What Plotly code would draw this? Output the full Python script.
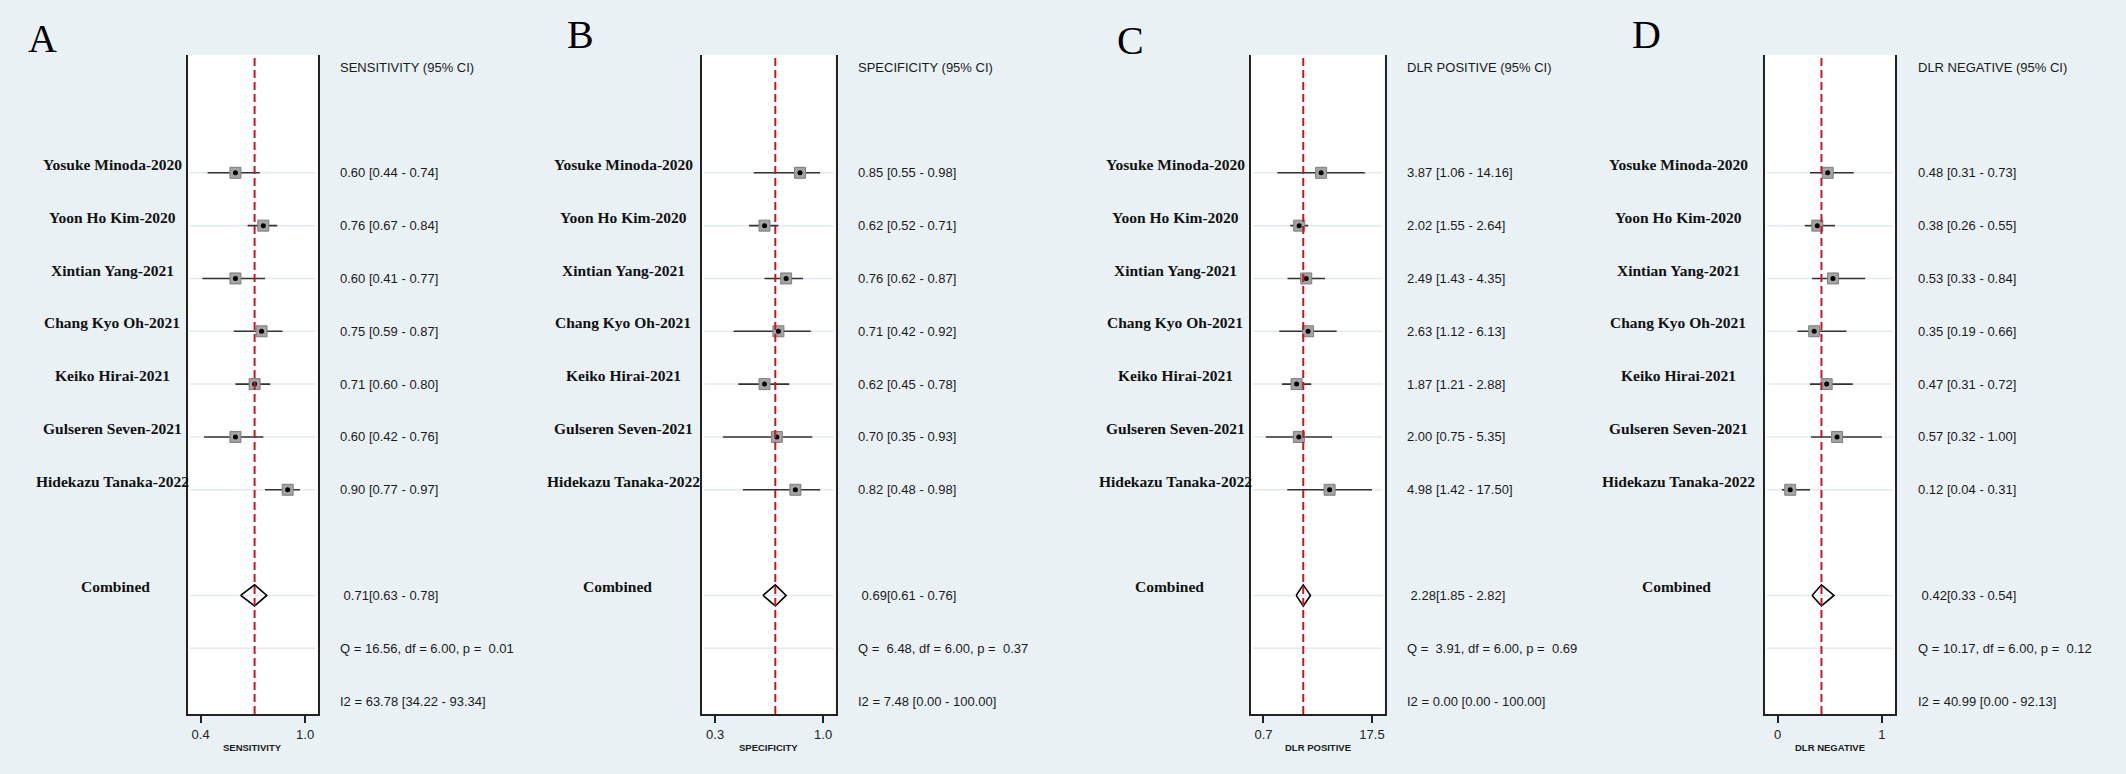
import plotly.graph_objects as go

# ---------------- data ----------------
studies = ["Yosuke Minoda-2020", "Yoon Ho Kim-2020", "Xintian Yang-2021",
           "Chang Kyo Oh-2021", "Keiko Hirai-2021", "Gulseren Seven-2021",
           "Hidekazu Tanaka-2022"]
study_rows = [1, 2, 3, 4, 5, 6, 7]
combined_row = 9
q_row = 10
i2_row = 11
header_row = -1

sens_est = [0.60, 0.76, 0.60, 0.75, 0.71, 0.60, 0.90]
sens_lo = [0.44, 0.67, 0.41, 0.59, 0.60, 0.42, 0.77]
sens_hi = [0.74, 0.84, 0.77, 0.87, 0.80, 0.76, 0.97]
sens_comb = [0.71, 0.63, 0.78]
sens_q = [16.56, 6.00, 0.01]
sens_i2 = [63.78, 34.22, 93.34]

spec_est = [0.85, 0.62, 0.76, 0.71, 0.62, 0.70, 0.82]
spec_lo = [0.55, 0.52, 0.62, 0.42, 0.45, 0.35, 0.48]
spec_hi = [0.98, 0.71, 0.87, 0.92, 0.78, 0.93, 0.98]
spec_comb = [0.69, 0.61, 0.76]
spec_q = [6.48, 6.00, 0.37]
spec_i2 = [7.48, 0.00, 100.00]

dlrp_est = [3.87, 2.02, 2.49, 2.63, 1.87, 2.00, 4.98]
dlrp_lo = [1.06, 1.55, 1.43, 1.12, 1.21, 0.75, 1.42]
dlrp_hi = [14.16, 2.64, 4.35, 6.13, 2.88, 5.35, 17.50]
dlrp_comb = [2.28, 1.85, 2.82]
dlrp_q = [3.91, 6.00, 0.69]
dlrp_i2 = [0.00, 0.00, 100.00]

dlrn_est = [0.48, 0.38, 0.53, 0.35, 0.47, 0.57, 0.12]
dlrn_lo = [0.31, 0.26, 0.33, 0.19, 0.31, 0.32, 0.04]
dlrn_hi = [0.73, 0.55, 0.84, 0.66, 0.72, 1.00, 0.31]
dlrn_comb = [0.42, 0.33, 0.54]
dlrn_q = [10.17, 6.00, 0.12]
dlrn_i2 = [40.99, 0.00, 92.13]

letters = ["A", "B", "C", "D"]
headers = ["SENSITIVITY (95% CI)", "SPECIFICITY (95% CI)",
           "DLR POSITIVE (95% CI)", "DLR NEGATIVE (95% CI)"]
axis_titles = ["SENSITIVITY", "SPECIFICITY", "DLR POSITIVE", "DLR NEGATIVE"]
tick_values = [[0.4, 1.0], [0.3, 1.0], [0.7, 17.5], [0, 1]]
tick_labels = [["0.4", "1.0"], ["0.3", "1.0"], ["0.7", "17.5"], ["0", "1"]]

# ---------------- layout (pixels) ----------------
W, H = 2126, 774
BG = "#E9F1F5"
plot_px = [(187.5, 317.5), (702, 835.5), (1251, 1384.5), (1765, 1895)]
x_ranges = [[0.3246, 1.0713], [0.215, 1.080], [-0.315, 1.404], [-0.122, 1.126]]
x_types = ["linear", "linear", "log", "linear"]
name_center_px = [112, 623, 1175, 1678]
comb_center_px = [115, 617, 1169, 1676]
text_left_px = [338, 856, 1405, 1915.5]
letter_pos_px = [(42.5, 38), (580.5, 34), (1130, 41), (1646, 34)]
top_px, bottom_px = 55, 714
y_range = [11.245, -1.23]

panels = [
    (sens_est, sens_lo, sens_hi, sens_comb, sens_q, sens_i2),
    (spec_est, spec_lo, spec_hi, spec_comb, spec_q, spec_i2),
    (dlrp_est, dlrp_lo, dlrp_hi, dlrp_comb, dlrp_q, dlrp_i2),
    (dlrn_est, dlrn_lo, dlrn_hi, dlrn_comb, dlrn_q, dlrn_i2),
]

NB = "\u00a0"
serif = "Liberation Serif, Times New Roman, serif"
sans = "Liberation Sans, Arial, sans-serif"

fig = go.Figure()
annotations = []
shapes = []
layout_axes = {}

ydom = [1 - bottom_px / H, 1 - top_px / H]

for i, (est, lo, hi, comb, qv, i2v) in enumerate(panels):
    n = "" if i == 0 else str(i + 1)
    xa, ya = "x" + n, "y" + n

    # CI lines
    cx, cy = [], []
    for l, h, r in zip(lo, hi, study_rows):
        cx += [l, h, None]
        cy += [r, r, None]
    fig.add_trace(go.Scatter(x=cx, y=cy, mode="lines", xaxis=xa, yaxis=ya,
                             line=dict(color="#333333", width=1.6),
                             hoverinfo="skip", showlegend=False))
    # squares
    fig.add_trace(go.Scatter(x=est, y=study_rows, mode="markers", xaxis=xa, yaxis=ya,
                             marker=dict(symbol="square", size=11, color="#A3A3A3",
                                         line=dict(color="#7E7E7E", width=1)),
                             showlegend=False))
    # dots
    fig.add_trace(go.Scatter(x=est, y=study_rows, mode="markers", xaxis=xa, yaxis=ya,
                             marker=dict(symbol="circle", size=5, color="black"),
                             showlegend=False))
    # diamond
    ce, cl, ch = comb
    fig.add_trace(go.Scatter(x=[cl, ce, ch, ce, cl],
                             y=[combined_row, combined_row - 0.2, combined_row,
                                combined_row + 0.2, combined_row],
                             mode="lines", xaxis=xa, yaxis=ya,
                             line=dict(color="black", width=1.6),
                             showlegend=False))

    x0, x1 = plot_px[i]
    xaxis_def = dict(domain=[x0 / W, x1 / W], anchor=ya, type=x_types[i],
                     range=x_ranges[i], tickvals=tick_values[i], ticktext=tick_labels[i],
                     ticks="outside", ticklen=7, tickwidth=1.5, tickcolor="#222222",
                     showline=True, linecolor="#222222", linewidth=2,
                     showgrid=False, zeroline=False,
                     tickfont=dict(family=sans, size=13, color="#222222"))
    yaxis_def = dict(domain=ydom, anchor=xa, range=y_range, showticklabels=False,
                     ticks="", showgrid=False, zeroline=False, showline=True,
                     mirror=True, linecolor="#222222", linewidth=2)
    layout_axes["xaxis" + n] = xaxis_def
    layout_axes["yaxis" + n] = yaxis_def

    # row lines
    for r in study_rows + [combined_row, q_row]:
        shapes.append(dict(type="line", xref=xa + " domain", yref=ya,
                           x0=0.015, x1=0.985, y0=r, y1=r, layer="below",
                           line=dict(color="#E2EAEF", width=1.5)))
    # red dashed line at combined estimate
    shapes.append(dict(type="line", xref=xa, yref=ya + " domain", x0=ce, x1=ce,
                       y0=0, y1=1, layer="above",
                       line=dict(color="#CC1522", width=2, dash="8px,4px")))

    # study names
    for name, r in zip(studies, study_rows):
        annotations.append(dict(text="<b>" + name + "</b>", x=name_center_px[i] / W,
                                xref="paper", y=r - 0.16, yref=ya, xanchor="center",
                                yanchor="middle", showarrow=False,
                                font=dict(family=serif, size=15.5, color="#111111")))
    annotations.append(dict(text="<b>Combined</b>", x=comb_center_px[i] / W,
                            xref="paper", y=combined_row - 0.17, yref=ya,
                            xanchor="center", yanchor="middle", showarrow=False,
                            font=dict(family=serif, size=15.5, color="#111111")))

    tx = text_left_px[i] / W
    tf = dict(family=sans, size=13, color="#1A1A1A")
    annotations.append(dict(text=headers[i], x=tx, xref="paper", y=header_row, yref=ya,
                            xanchor="left", yanchor="middle", showarrow=False, font=tf))
    for e, l, h, r in zip(est, lo, hi, study_rows):
        annotations.append(dict(text=f"{e:.2f} [{l:.2f} - {h:.2f}]", x=tx, xref="paper",
                                y=r, yref=ya, xanchor="left", yanchor="middle",
                                showarrow=False, font=tf))
    annotations.append(dict(text=NB + f"{ce:.2f}[{cl:.2f} - {ch:.2f}]", x=tx, xref="paper",
                            y=combined_row, yref=ya, xanchor="left", yanchor="middle",
                            showarrow=False, font=tf))
    qtxt = f"Q = {qv[0]:5.2f}, df = {qv[1]:.2f}, p = {qv[2]:5.2f}".replace("  ", " " + NB)
    annotations.append(dict(text=qtxt, x=tx, xref="paper", y=q_row, yref=ya,
                            xanchor="left", yanchor="middle", showarrow=False, font=tf))
    i2txt = f"I2 = {i2v[0]:.2f} [{i2v[1]:.2f} - {i2v[2]:.2f}]"
    annotations.append(dict(text=i2txt, x=tx, xref="paper", y=i2_row, yref=ya,
                            xanchor="left", yanchor="middle", showarrow=False, font=tf))

    # axis title
    annotations.append(dict(text="<b>" + axis_titles[i] + "</b>", x=0.5, xref=xa + " domain",
                            y=1 - 747 / H, yref="paper", xanchor="center",
                            yanchor="middle", showarrow=False,
                            font=dict(family=sans, size=9.5, color="#1A1A1A")))
    # panel letter
    lx, ly = letter_pos_px[i]
    annotations.append(dict(text=letters[i], x=lx / W, xref="paper", y=1 - ly / H,
                            yref="paper", xanchor="center", yanchor="middle",
                            showarrow=False,
                            font=dict(family=serif, size=40, color="#000000")))

fig.update_layout(width=W, height=H, margin=dict(l=0, r=0, t=0, b=0),
                  paper_bgcolor=BG, plot_bgcolor="white", showlegend=False,
                  annotations=annotations, shapes=shapes, **layout_axes)

fig.write_html("out.html",
               config={"displayModeBar": False},
               post_script="document.body.style.margin='0';"
                           "document.body.style.padding='0';"
                           "document.body.style.overflow='hidden';"
                           "document.body.style.background='" + BG + "';")
